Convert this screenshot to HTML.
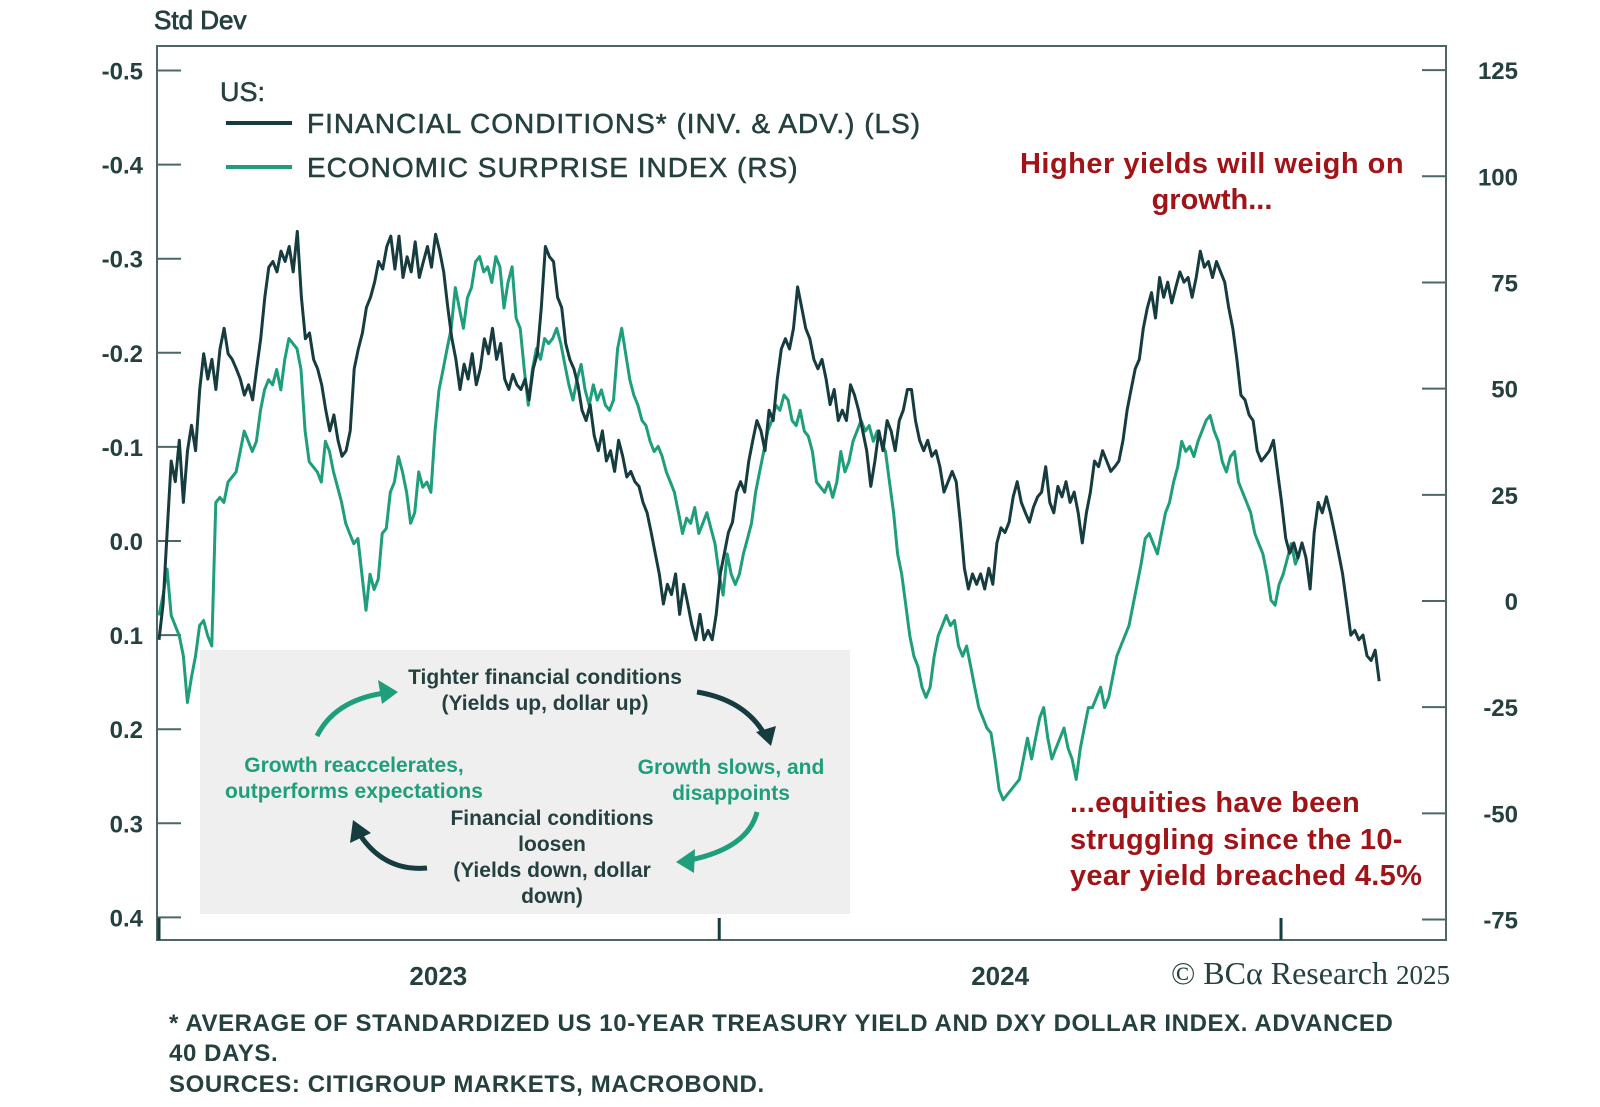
<!DOCTYPE html>
<html><head><meta charset="utf-8">
<style>
html,body{margin:0;padding:0;background:#fff;}
svg{display:block;font-family:"Liberation Sans",sans-serif;}
</style></head>
<body>
<svg id="chart" width="1600" height="1107" viewBox="0 0 1600 1107" xmlns="http://www.w3.org/2000/svg">
<text x="154" y="29" font-size="26" fill="#24403f" stroke="#24403f" stroke-width="0.8">Std Dev</text>
<rect x="157" y="46" width="1289" height="894" fill="none" stroke="#4d6767" stroke-width="2"/>
<g id="axes"></g>
<g id="series"></g>

<g stroke="#24403f" stroke-width="0.5">
<text x="220" y="101" font-size="27" fill="#24403f">US:</text>
<line x1="226" y1="123" x2="292" y2="123" stroke="#163c40" stroke-width="4"/>
<text x="307" y="133" font-size="28" letter-spacing="1" fill="#24403f">FINANCIAL CONDITIONS* (INV. &amp; ADV.) (LS)</text>
<line x1="226" y1="167" x2="292" y2="167" stroke="#1f9e7b" stroke-width="4"/>
<text x="307" y="177" font-size="28" letter-spacing="1" fill="#24403f">ECONOMIC SURPRISE INDEX (RS)</text>
</g>

<g fill="#a01418" font-size="29" font-weight="bold" text-anchor="middle">
<text x="1212" y="173" letter-spacing="0.5">Higher yields will weigh on</text>
<text x="1212" y="209">growth...</text>
</g>
<g fill="#a01418" font-size="29" font-weight="bold">
<text x="1070" y="812" letter-spacing="0.3">...equities have been</text>
<text x="1070" y="849" letter-spacing="0.3">struggling since the 10-</text>
<text x="1070" y="885" letter-spacing="0.3">year yield breached 4.5%</text>
</g>

<g>
<rect x="200" y="650" width="650" height="264" fill="#efefef"/>
<g font-size="21" font-weight="bold" text-anchor="middle">
<text x="545" y="684" fill="#24403f">Tighter financial conditions</text>
<text x="545" y="710" fill="#24403f">(Yields up, dollar up)</text>
<text x="354" y="772" fill="#1f9e7b">Growth reaccelerates,</text>
<text x="354" y="798" fill="#1f9e7b">outperforms expectations</text>
<text x="731" y="774" fill="#1f9e7b">Growth slows, and</text>
<text x="731" y="800" fill="#1f9e7b">disappoints</text>
<text x="552" y="825" fill="#24403f">Financial conditions</text>
<text x="552" y="851" fill="#24403f">loosen</text>
<text x="552" y="877" fill="#24403f">(Yields down, dollar</text>
<text x="552" y="903" fill="#24403f">down)</text>
</g>
<path d="M317,736 Q335,700 385,693" fill="none" stroke="#1f9e7b" stroke-width="5"/>
<polygon points="398,692 378,680 382,704" fill="#1f9e7b"/>
<path d="M697,692 Q745,700 765,735" fill="none" stroke="#163c40" stroke-width="5"/>
<polygon points="771,746 756,732 776,726" fill="#163c40"/>
<path d="M757,812 Q748,848 690,860" fill="none" stroke="#1f9e7b" stroke-width="5"/>
<polygon points="676,862 695,849 694,873" fill="#1f9e7b"/>
<path d="M427,868 Q385,872 360,835" fill="none" stroke="#163c40" stroke-width="5"/>
<polygon points="353,820 350,843 371,833" fill="#163c40"/>
</g>

<text x="1450" y="984" font-size="32" fill="#24403f" text-anchor="end" font-family="Liberation Serif, serif">© BCα Research <tspan font-size="27">2025</tspan></text>
<g font-size="24" font-weight="bold" fill="#24403f" letter-spacing="0.6">
<text x="169" y="1031">* AVERAGE OF STANDARDIZED US 10-YEAR TREASURY YIELD AND DXY DOLLAR INDEX. ADVANCED</text>
<text x="169" y="1061">40 DAYS.</text>
<text x="169" y="1092">SOURCES: CITIGROUP MARKETS, MACROBOND.</text>
</g>
</svg>
<script>
const leftTicks = [-0.5,-0.4,-0.3,-0.2,-0.1,0.0,0.1,0.2,0.3,0.4];
const leftTickLabels = ["-0.5","-0.4","-0.3","-0.2","-0.1","0.0","0.1","0.2","0.3","0.4"];
const rightTicks = [125,100,75,50,25,0,-25,-50,-75];
const rightTickLabels = ["125","100","75","50","25","0","-25","-50","-75"];
const yearTicks = ["2023-01-01","2024-01-01","2025-01-01"];
const yearLabels = ["2023","2024"];
const yearLabelDates = ["2023-07-02","2024-07-02"];
const fcRange = ["2023-01-01","2025-03-06"];
const esiRange = ["2023-01-01","2025-01-13"];
const financialConditions = [0.105,0.067,-0.009,-0.085,-0.063,-0.107,-0.041,-0.096,-0.123,-0.096,-0.161,-0.199,-0.172,-0.193,-0.161,-0.204,-0.226,-0.199,-0.193,-0.183,-0.172,-0.155,-0.166,-0.150,-0.183,-0.215,-0.259,-0.291,-0.297,-0.286,-0.308,-0.297,-0.313,-0.286,-0.329,-0.259,-0.215,-0.221,-0.193,-0.183,-0.166,-0.139,-0.117,-0.134,-0.107,-0.090,-0.096,-0.117,-0.183,-0.204,-0.221,-0.248,-0.259,-0.275,-0.297,-0.289,-0.313,-0.324,-0.289,-0.324,-0.280,-0.302,-0.286,-0.318,-0.280,-0.297,-0.313,-0.291,-0.326,-0.308,-0.286,-0.248,-0.215,-0.193,-0.161,-0.188,-0.172,-0.199,-0.166,-0.183,-0.215,-0.199,-0.226,-0.193,-0.210,-0.172,-0.161,-0.177,-0.166,-0.161,-0.172,-0.150,-0.183,-0.199,-0.248,-0.313,-0.302,-0.297,-0.259,-0.248,-0.210,-0.193,-0.183,-0.166,-0.139,-0.128,-0.145,-0.112,-0.096,-0.117,-0.085,-0.096,-0.074,-0.107,-0.090,-0.068,-0.074,-0.063,-0.058,-0.041,-0.030,-0.009,0.013,0.035,0.067,0.046,0.057,0.035,0.078,0.046,0.067,0.089,0.105,0.078,0.105,0.095,0.105,0.078,0.035,0.013,-0.009,-0.020,-0.052,-0.063,-0.052,-0.085,-0.107,-0.128,-0.117,-0.096,-0.139,-0.128,-0.172,-0.204,-0.215,-0.204,-0.226,-0.270,-0.248,-0.226,-0.215,-0.193,-0.183,-0.193,-0.172,-0.145,-0.161,-0.128,-0.139,-0.128,-0.166,-0.155,-0.139,-0.117,-0.096,-0.058,-0.085,-0.117,-0.096,-0.128,-0.117,-0.096,-0.128,-0.139,-0.161,-0.161,-0.128,-0.107,-0.096,-0.107,-0.090,-0.096,-0.079,-0.052,-0.063,-0.074,-0.063,-0.020,0.029,0.051,0.035,0.046,0.035,0.051,0.029,0.046,0.002,-0.014,-0.009,-0.020,-0.047,-0.063,-0.041,-0.030,-0.020,-0.036,-0.047,-0.052,-0.079,-0.041,-0.030,-0.058,-0.047,-0.063,-0.041,-0.052,-0.030,0.002,-0.030,-0.052,-0.085,-0.079,-0.096,-0.085,-0.074,-0.079,-0.085,-0.107,-0.139,-0.161,-0.183,-0.193,-0.226,-0.248,-0.264,-0.237,-0.280,-0.259,-0.275,-0.253,-0.270,-0.286,-0.275,-0.280,-0.259,-0.280,-0.308,-0.291,-0.297,-0.280,-0.297,-0.286,-0.275,-0.248,-0.226,-0.193,-0.155,-0.150,-0.134,-0.128,-0.096,-0.085,-0.090,-0.096,-0.107,-0.074,-0.041,-0.003,0.013,0.002,0.018,0.002,0.018,0.051,-0.009,-0.041,-0.030,-0.047,-0.030,-0.009,0.013,0.035,0.067,0.100,0.095,0.105,0.100,0.122,0.127,0.116,0.149];
const surpriseIndex = [-3.4,1.4,7.5,-3.4,-5.8,-8.2,-13.0,-23.9,-17.9,-13.0,-5.8,-4.6,-8.2,-10.6,23.2,24.4,23.2,28.0,29.2,30.4,35.2,40.0,37.6,35.2,37.6,44.9,49.7,52.1,50.9,54.5,49.7,56.9,61.8,60.6,59.4,54.5,40.0,32.8,31.6,30.4,28.0,37.6,35.2,30.4,26.8,23.2,18.3,15.9,13.5,14.7,6.3,-2.2,6.3,2.7,5.1,15.9,17.1,25.6,28.0,34.0,30.4,25.6,18.3,20.8,30.4,26.8,28.0,25.6,40.0,49.7,54.5,59.4,64.2,73.8,69.0,64.2,71.4,73.8,79.9,81.1,77.5,78.7,75.0,81.1,78.7,69.0,75.0,78.7,66.6,64.2,54.5,46.1,54.5,59.4,56.9,61.8,60.6,61.8,64.2,60.6,55.7,50.9,47.3,52.1,55.7,49.7,46.1,50.9,47.3,49.7,46.1,44.9,47.3,59.4,64.2,58.2,52.1,48.5,46.1,42.5,41.3,37.6,35.2,36.4,34.0,30.4,28.0,25.6,20.8,15.9,19.5,18.3,22.0,15.9,18.3,20.8,17.1,13.5,6.3,1.4,11.1,6.3,3.9,6.3,11.1,14.7,18.3,25.6,30.4,35.2,40.0,42.5,46.1,44.9,48.5,47.3,42.5,41.3,44.9,40.0,38.8,35.2,28.0,26.8,25.6,28.0,24.4,28.0,35.2,30.4,32.8,37.6,40.0,42.5,40.0,41.3,37.6,40.0,37.6,35.2,28.0,20.8,11.1,6.3,-1.0,-8.2,-13.0,-15.4,-20.3,-22.7,-20.3,-13.0,-8.2,-5.8,-3.4,-5.8,-4.6,-10.6,-13.0,-10.6,-15.4,-20.3,-25.1,-27.5,-29.9,-31.1,-37.2,-44.4,-46.8,-45.6,-44.4,-43.2,-42.0,-37.2,-32.3,-37.2,-32.3,-27.5,-25.1,-32.3,-37.2,-34.7,-32.3,-29.9,-34.7,-37.2,-42.0,-34.7,-29.9,-25.1,-25.1,-22.7,-20.3,-25.1,-22.7,-17.9,-13.0,-10.6,-8.2,-5.8,-1.0,3.9,8.7,14.7,15.9,13.5,11.1,15.9,20.8,23.2,28.0,31.6,37.6,35.2,36.4,34.0,37.6,40.0,42.5,43.7,40.0,37.6,32.8,30.4,34.0,35.2,28.0,25.6,23.2,20.8,15.9,13.5,11.1,6.3,0.2,-1.0,3.9,6.3,9.9,13.5,8.7,11.1];

const NS = "http://www.w3.org/2000/svg";
const X0 = 159, X1 = 1281, T0 = Date.parse("2023-01-01"), T1 = Date.parse("2025-01-01");
function xScale(d){ return X0 + (Date.parse(d) - T0) / (T1 - T0) * (X1 - X0); }
function xTime(t){ return X0 + (t - T0) / (T1 - T0) * (X1 - X0); }
function yLeft(v){ return 541 + v * 941; }
function yRight(v){ return 601 - v * 4.247; }
function mk(tag, attrs, parent){ const e = document.createElementNS(NS, tag); for (const k in attrs) e.setAttribute(k, attrs[k]); parent.appendChild(e); return e; }
const axes = document.getElementById("axes");
const series = document.getElementById("series");

leftTicks.forEach((v, i) => {
  const y = yLeft(v);
  const t = mk("line", {x1:157, y1:y, x2:181, y2:y, stroke:"#4d6767", "stroke-width":2}, axes);
  
  
  const l = mk("text", {x:143, y:y+9, "font-size":24, "font-weight":"bold", "text-anchor":"end", fill:"#24403f"}, axes);
  
  
  l.textContent = leftTickLabels[i];
});
rightTicks.forEach((v, i) => {
  const y = yRight(v);
  const t = mk("line", {x1:1422, y1:y, x2:1446, y2:y, stroke:"#4d6767", "stroke-width":2}, axes);
  
  
  const l = mk("text", {x:1518, y:y+9, "font-size":24, "font-weight":"bold", "text-anchor":"end", fill:"#24403f"}, axes);
  
  
  l.textContent = rightTickLabels[i];
});
yearTicks.forEach(d => {
  const x = xScale(d);
  const t = mk("line", {x1:x, y1:918, x2:x, y2:940, stroke:"#163c40", "stroke-width":3}, axes);
  
  
});
yearLabels.forEach((s, i) => {
  const l = mk("text", {x:xScale(yearLabelDates[i]), y:985, "font-size":26, "font-weight":"bold", "text-anchor":"middle", fill:"#24403f"}, axes);
  
  
  l.textContent = s;
});

function linePath(vals, range, yf){
  const a = Date.parse(range[0]), b = Date.parse(range[1]), n = vals.length;
  return vals.map((v, i) => (i ? "L" : "M") + xTime(a + (b - a) * i / (n - 1)).toFixed(1) + "," + yf(v).toFixed(1)).join(" ");
}
const esi = mk("path", {d:linePath(surpriseIndex, esiRange, yRight), fill:"none", stroke:"#1f9e7b", "stroke-width":3, "stroke-linejoin":"round"}, series);


const fc = mk("path", {d:linePath(financialConditions, fcRange, yLeft), fill:"none", stroke:"#163c40", "stroke-width":3, "stroke-linejoin":"round"}, series);


</script>
</body></html>
